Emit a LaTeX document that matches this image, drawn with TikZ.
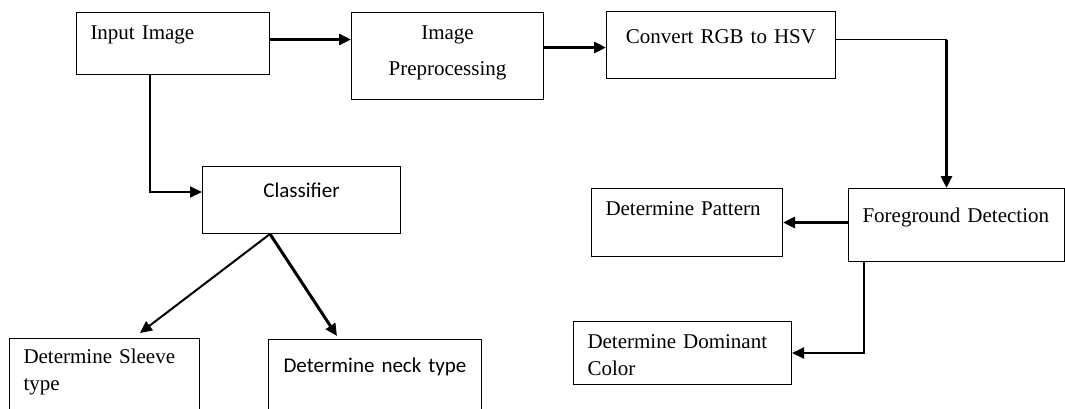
\documentclass[tikz,border=0pt]{standalone}
\usepackage{fontspec}
\setmainfont{Liberation Serif}
\newfontfamily\calibrifont{Carlito}
\usetikzlibrary{%
	positioning,
	calc,
	arrows.meta
}

\begin{document}
\begin{tikzpicture}[
		x=1pt,y=-1pt,
		SBlock/.style={draw,line width=1pt,shape=rectangle,anchor=north west,inner xsep=14pt,inner ysep=0pt,align=left,font=\fontsize{21}{27}\selectfont},
		SBlock-sans/.style={SBlock,align=center,font=\calibrifont\fontsize{21}{27}\selectfont},
		link/.style={line width=1.2pt},
		flow/.style={line width=2pt,-{Triangle[length=12pt,width=11pt]}},
		flow-thick/.style={line width=3pt,-{Triangle[length=12pt,width=11pt]}}
	]
	\useasboundingbox (0,0) rectangle (1065,408);
	\clip (0,0) rectangle (1065,408);
	
	%top row
	\node(in) [SBlock, text width=165pt, text height=27pt, text depth=35pt] at (76,12) {Input Image};
	\node(pre) [SBlock, align=center, text width=164pt, text height=27pt, text depth=60pt] at (351,12) {Image\\[9pt]Preprocessing};
	\node(hsv) [SBlock, align=center, text width=201pt, text height=32pt, text depth=35pt] at (606,11) {Convert RGB to HSV};
	
	%right branch
	\node(fg) [SBlock, text width=188pt, text height=34pt, text depth=39pt] at (848,188) {Foreground Detection};
	\node(pat) [SBlock, text width=163pt, text height=27pt, text depth=41pt] at (591,188) {Determine Pattern};
	\node(dom) [SBlock, text width=190pt, text height=27pt, text depth=36pt] at (573,321) {Determine Dominant\\Color};
	
	%left branch
	\node(cls) [SBlock-sans, text width=170pt, text height=31pt, text depth=36pt] at (202,166) {Classifier};
	\node(slv) [SBlock, text width=162pt, text height=25pt, text depth=57pt] at (9,338) {Determine Sleeve\\type};
	\node(nck) [SBlock-sans, text width=185pt, text height=33pt, text depth=48pt] at (268,339) {Determine neck type};
	
	%connectors
	\draw [flow-thick] (in.base -| in.east) -- (pre.base -| pre.west);
	\draw [flow-thick] ($(pre.east |- hsv.base)+(0,4)$) -- ($(hsv.base -| hsv.west)+(0,4)$);
	\coordinate (c-hsv) at ($(fg.north |- hsv.base)+(-10,-4)$);
	\draw [link] (c-hsv -| hsv.east) -- (c-hsv);
	\draw [flow-thick] (c-hsv) -- (c-hsv |- fg.north);
	\draw [flow-thick] (fg.west |- pat.east) -- (pat.east);
	\draw [flow] ($(fg.south west)+(16,0)$) |- (dom.east);
	
	\draw [flow] ($(in.south west)+(74,0)$) |- ($(cls.west)+(0,-8)$);
	\coordinate (c-cls) at ($(cls.south west)+(68,0)$);
	\draw [flow] (c-cls) -- ($(slv.north west)+(131,-5)$);
	\draw [flow-thick] (c-cls) -- ($(nck.north west)+(69,-3)$);
	
\end{tikzpicture}
\end{document}
